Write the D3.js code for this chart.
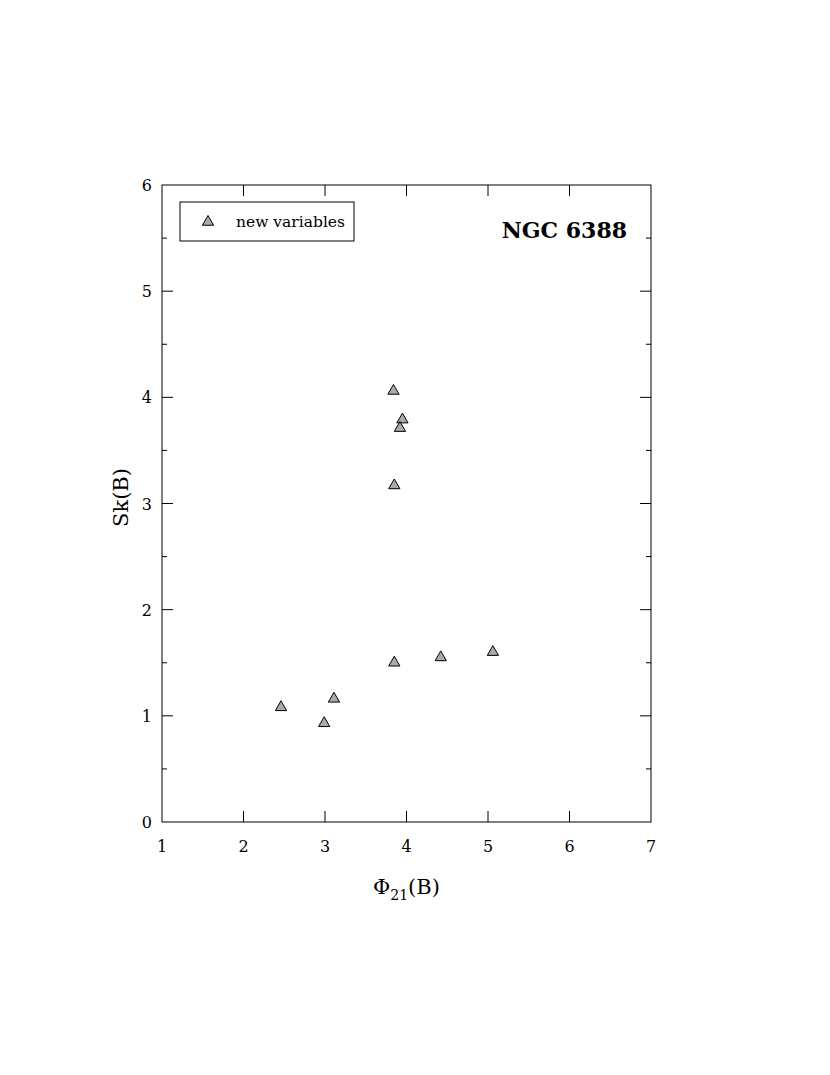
<!DOCTYPE html>
<html>
<head>
<meta charset="utf-8">
<script src="https://cdn.jsdelivr.net/npm/d3@7"></script>
<style>
  body { margin: 0; background: #fff; }
  svg text { font-family: "DejaVu Serif", "Liberation Serif", serif; fill: #000; }
</style>
</head>
<body>
<div id="chart"></div>
<script>
// Phi21(B) and Sk(B) for the new variables in NGC 6388.
const phi21 = [2.46, 2.99, 3.11, 3.85, 4.42, 5.06, 3.84, 3.95, 3.92, 3.85];
const skew = [1.08, 0.93, 1.16, 1.50, 1.55, 1.60, 4.06, 3.79, 3.71, 3.17];
const xTicks = [1, 2, 3, 4, 5, 6, 7];
const yTicks = [0, 1, 2, 3, 4, 5, 6];
const yMinorTicks = [0.5, 1.5, 2.5, 3.5, 4.5, 5.5];

const points = phi21.map((v, i) => ({x: v, y: skew[i]}));

// Set the dimensions and margins of the chart.
const W = 830, H = 1075;
const margin = {top: 185, right: 179, bottom: 253, left: 162};
const width = W - margin.left - margin.right;
const height = H - margin.top - margin.bottom;

const svg = d3.select('#chart')
    .append('svg')
        .attr('width', W)
        .attr('height', H)
    .append('g')
        .attr('transform', `translate(${margin.left},${margin.top})`);

const x = d3.scaleLinear().domain([1, 7]).range([0, width]);
const y = d3.scaleLinear().domain([0, 6]).range([height, 0]);

// Frame.
svg.append('rect')
    .attr('width', width)
    .attr('height', height)
    .attr('fill', 'none')
    .attr('stroke', '#000')
    .attr('stroke-width', 1);

// Inward ticks on all four sides.
const tickG = svg.append('g').attr('stroke', '#000').attr('stroke-width', 1);
const innerX = xTicks.slice(1, -1);
tickG.selectAll('.xb').data(innerX).enter().append('line')
    .attr('x1', d => x(d)).attr('x2', d => x(d))
    .attr('y1', height).attr('y2', height - 11);
tickG.selectAll('.xt').data(innerX).enter().append('line')
    .attr('x1', d => x(d)).attr('x2', d => x(d))
    .attr('y1', 0).attr('y2', 11);
const innerY = yTicks.slice(1, -1);
tickG.selectAll('.yl').data(innerY).enter().append('line')
    .attr('x1', 0).attr('x2', 11)
    .attr('y1', d => y(d)).attr('y2', d => y(d));
tickG.selectAll('.yr').data(innerY).enter().append('line')
    .attr('x1', width).attr('x2', width - 11)
    .attr('y1', d => y(d)).attr('y2', d => y(d));
tickG.selectAll('.ylm').data(yMinorTicks).enter().append('line')
    .attr('x1', 0).attr('x2', 5)
    .attr('y1', d => y(d)).attr('y2', d => y(d));
tickG.selectAll('.yrm').data(yMinorTicks).enter().append('line')
    .attr('x1', width).attr('x2', width - 5)
    .attr('y1', d => y(d)).attr('y2', d => y(d));

// Tick labels.
svg.selectAll('.xl').data(xTicks).enter().append('text')
    .attr('x', d => x(d))
    .attr('y', height + 30)
    .attr('text-anchor', 'middle')
    .style('font-size', '16px')
    .text(d => d);
svg.selectAll('.yl').data(yTicks).enter().append('text')
    .attr('x', -10)
    .attr('y', d => y(d) + 6)
    .attr('text-anchor', 'end')
    .style('font-size', '16px')
    .text(d => d);

// Axis titles.
const xt = svg.append('text')
    .attr('x', width / 2)
    .attr('y', height + 72)
    .attr('text-anchor', 'middle')
    .style('font-size', '21px');
xt.append('tspan').text('Φ');
xt.append('tspan').attr('dy', 6).style('font-size', '14px').text('21');
xt.append('tspan').attr('dy', -6).text('(B)');

svg.append('text')
    .attr('transform', `translate(${-34},${height / 2 - 6}) rotate(-90)`)
    .attr('text-anchor', 'middle')
    .style('font-size', '21px')
    .text('Sk(B)');

// Cluster name.
svg.append('text')
    .attr('x', width - 24)
    .attr('y', 53)
    .attr('text-anchor', 'end')
    .style('font-size', '22px')
    .style('font-weight', 'bold')
    .text('NGC 6388');

// Triangle markers.
const tri = d3.symbol().type(d3.symbolTriangle).size(55);
svg.append('g')
    .selectAll('path')
    .data(points)
    .enter()
    .append('path')
        .attr('d', tri)
        .attr('transform', d => `translate(${x(d.x)},${y(d.y)})`)
        .attr('fill', '#aaaaaa')
        .attr('stroke', '#000')
        .attr('stroke-width', 1);

// Legend.
const legend = svg.append('g').attr('transform', 'translate(18,17)');
legend.append('rect')
    .attr('width', 174)
    .attr('height', 39)
    .attr('fill', '#fff')
    .attr('stroke', '#000')
    .attr('stroke-width', 1);
legend.append('path')
    .attr('d', tri)
    .attr('transform', 'translate(28,20)')
    .attr('fill', '#aaaaaa')
    .attr('stroke', '#000');
legend.append('text')
    .attr('x', 56)
    .attr('y', 25)
    .style('font-size', '15.5px')
    .text('new variables');
</script>
</body>
</html>
